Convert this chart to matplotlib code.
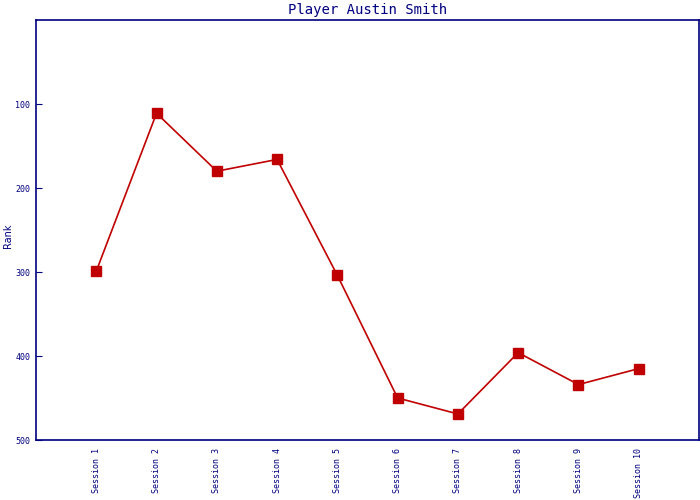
import matplotlib
matplotlib.use('Agg')
import matplotlib.pyplot as plt

# data
sessions = ['Session %d' % i for i in range(1, 11)]
ranks = [299, 111, 180, 166, 304, 450, 469, 396, 434, 415]

navy = '#000080'
red = '#C00000'

fig = plt.figure(figsize=(7, 5), dpi=100)
ax = fig.add_axes([36/700, 60/500, 663/700, 420/500])

x = list(range(1, len(sessions) + 1))
ax.plot(x, ranks, color=red, linewidth=1.2, marker='s', markersize=7,
        markerfacecolor=red, markeredgecolor=red)

ax.set_xlim(0, 11)
ax.set_ylim(500, 0)
ax.set_yticks([100, 200, 300, 400, 500])
ax.set_xticks(x)
ax.set_xticklabels(sessions, rotation=90, fontsize=6, color=navy,
                   family='DejaVu Sans Mono')
for lbl in ax.get_yticklabels():
    lbl.set_fontsize(6)
    lbl.set_color(navy)
    lbl.set_family('DejaVu Sans Mono')

ax.tick_params(axis='y', direction='in', length=4, color=navy, pad=4)
ax.tick_params(axis='x', length=0, pad=6)
for s in ax.spines.values():
    s.set_color(navy)
    s.set_linewidth(1.2)

ax.set_title('Player Austin Smith', fontsize=10, color=navy,
             family='DejaVu Sans Mono', pad=4)
# y label placed by hand, the axes sits close to the figure edge
fig.text(8/700, 1 - 236/500, 'Rank', rotation=90, fontsize=7, color=navy,
         ha='center', va='center')

fig.savefig('out.png', dpi=100)
